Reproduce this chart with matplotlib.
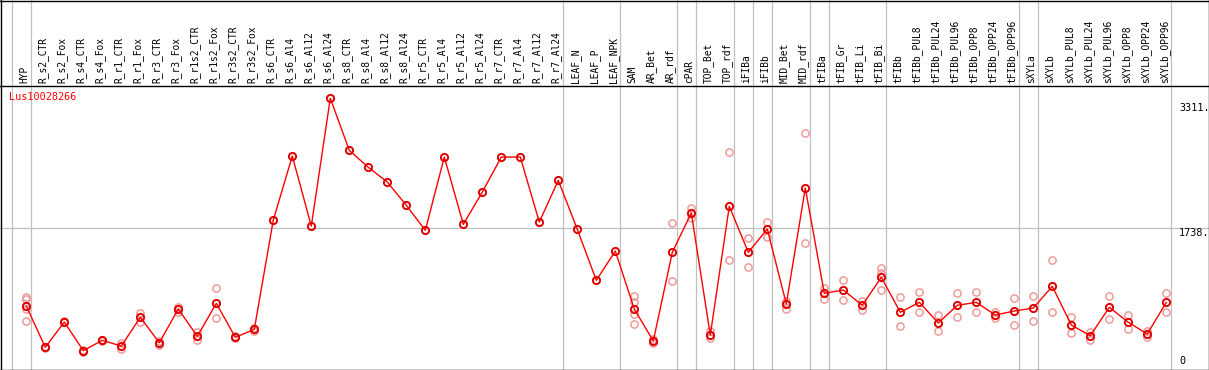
import matplotlib
matplotlib.use("Agg")
import matplotlib.pyplot as plt
from matplotlib.lines import Line2D
from matplotlib import transforms

# sample names (top labels)
samples = ["HYP", "R_s2_CTR", "R_s2_Fox", "R_s4_CTR", "R_s4_Fox", "R_r1_CTR", "R_r1_Fox",
           "R_r3_CTR", "R_r3_Fox", "R_r1s2_CTR", "R_r1s2_Fox", "R_r3s2_CTR", "R_r3s2_Fox",
           "R_s6_CTR", "R_s6_Al4", "R_s6_Al12", "R_s6_Al24", "R_s8_CTR", "R_s8_Al4",
           "R_s8_Al12", "R_s8_Al24", "R_r5_CTR", "R_r5_Al4", "R_r5_Al12", "R_r5_Al24",
           "R_r7_CTR", "R_r7_Al4", "R_r7_Al12", "R_r7_Al24", "LEAF_N", "LEAF_P", "LEAF_NPK",
           "SAM", "AR_Bet", "AR_rdf", "cPAR", "TOP_Bet", "TOP_rdf", "iFIBa", "iFIBb",
           "MID_Bet", "MID_rdf", "tFIBa", "tFIB_Gr", "tFIB_Li", "tFIB_Bi", "tFIBb",
           "tFIBb_PUL8", "tFIBb_PUL24", "tFIBb_PUL96", "tFIBb_OPP8", "tFIBb_OPP24",
           "tFIBb_OPP96", "sXYLa", "sXYLb", "sXYLb_PUL8", "sXYLb_PUL24", "sXYLb_PUL96",
           "sXYLb_OPP8", "sXYLb_OPP24", "sXYLb_OPP96"]

# mean expression per sample
means = [797, 298, 604, 257, 382, 313, 661, 353, 761, 431, 830, 419, 515,
         1838, 2612, 1765, 3311, 2681, 2476, 2298, 2016, 1713, 2600, 1786, 2177,
         2600, 2600, 1814, 2318, 1725, 1108, 1463,
         761, 374, 1447, 1923, 446, 2004, 1447, 1729, 822, 2225,
         951, 991, 806, 1145, 721, 842, 592, 806, 842, 688, 737,
         773, 1036, 567, 438, 782, 600, 459, 842]

# individual replicates
reps = [[910, 886, 761, 612], [305, 290], [612, 598], [268, 246], [390, 374],
        [352, 273], [713, 600], [378, 328], [789, 720], [479, 386], [1015, 649],
        [430, 408], [530, 500],
        [], [], [], [], [], [], [], [], [], [], [], [], [], [], [], [], [], [], [],
        [918, 842, 704, 579], [394, 346], [1798, 1100], [1987, 1859], [495, 407],
        [2657, 1350], [1617, 1266], [1814, 1636], [858, 765], [2887, 1556],
        [1015, 878], [1108, 870], [858, 753], [1254, 1193, 991], [903, 552],
        [963, 721], [688, 491], [951, 661], [963, 721], [728, 649], [891, 567],
        [915, 612], [1350, 721], [664, 471], [479, 390], [915, 636], [688, 523],
        [499, 419], [951, 721]]

# group separators (after these sample indices)
group_ends = [-1, 0, 28, 31, 34, 35, 37, 38, 39, 41, 42, 45, 52, 53, 60]

gene = "Lus10028266"
ytick_vals = [3311, 1738, 0]
ytick_txt = ["3311.", "1738.", "0"]

W, H = 1209, 370
fig = plt.figure(figsize=(W / 100, H / 100), dpi=100)
ax = fig.add_axes([0, 0, 1, (H - 85) / H])
for s in ax.spines.values():
    s.set_visible(False)
ax.set_xticks([])
ax.set_yticks([])

# pixel -> data mapping: column i at x = 26.3 + 19*i px
ax.set_xlim(-26.3 / 19, (W - 26.3) / 19)
ax.set_ylim(23, 3472)

mono = "DejaVu Sans Mono"
grey = "#c0c0c0"

# separators, running through the label strip too
for g in group_ends:
    ax.axvline(g + 0.23, ymin=0, ymax=H / 285, color=grey, lw=0.9, clip_on=False, zorder=1)
ax.axhline(1738, color=grey, lw=0.9, zorder=1)

# replicates
for i, r in enumerate(reps):
    if r:
        ax.plot([i] * len(r), r, "o", ms=5.2, mfc="none", mec="#f09a9a", mew=1.1, zorder=2)

x = list(range(len(samples)))
ax.plot(x, means, "-", color="red", lw=1.0, zorder=3)
ax.plot(x, means, "o", ms=5.2, mfc="none", mec="#e00000", mew=1.4, zorder=4)

# sample labels on top
lab_tr = transforms.blended_transform_factory(ax.transData, ax.transAxes)
for i, name in enumerate(samples):
    ax.text(i - 0.1, 1 + 2 / 285, name, rotation=90, ha="center", va="bottom",
            fontsize=6.9, family=mono, transform=lab_tr, clip_on=False)

ax.text(9 / W, 1 - 12 / 285, gene, color="red", fontsize=7.3, family=mono,
        transform=ax.transAxes, ha="left", va="center")

# right scale labels (pixel shift from the level, + = up)
offs = [-9.7, -4.4, 10.9]
rtr = transforms.blended_transform_factory(ax.transAxes, ax.transData)
for v, t, o in zip(ytick_vals, ytick_txt, offs):
    tr = transforms.offset_copy(rtr, fig=fig, x=0, y=o * 0.72, units="points")
    ax.text(1179 / W, v, t, fontsize=7.3, family=mono, ha="left", va="center",
            transform=tr, clip_on=False)

# frame lines in pixel coordinates
def hline(y, c="black"):
    fig.add_artist(Line2D([0, 1], [1 - y / H, 1 - y / H], color=c, lw=1.0,
                          transform=fig.transFigure))

def vline(xp, c="black"):
    fig.add_artist(Line2D([xp / W, xp / W], [0, 1], color=c, lw=1.0,
                          transform=fig.transFigure))

hline(0.5)
hline(85.5)
hline(369.5)
vline(0.5)
vline(1208.5)

fig.savefig("out.png", dpi=100)
